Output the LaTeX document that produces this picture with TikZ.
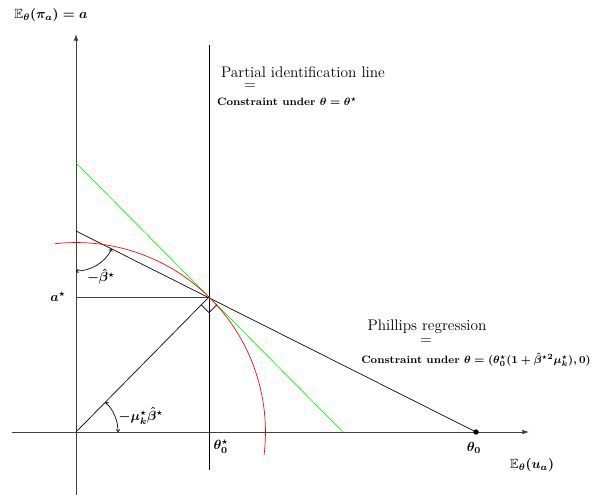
\documentclass[tikz,border=0pt]{standalone}
\usepackage{amssymb}
\usetikzlibrary{calc,arrows.meta}
\begin{document}
\begin{tikzpicture}[x=0.75pt,y=0.75pt,
  axis/.style={draw=black!75,line width=0.6pt,-{Latex[length=5pt,width=3.5pt]}},
  thinline/.style={draw=black,line width=0.5pt},
  anglearc/.style={draw=black,line width=0.5pt,{To[length=2pt,width=3pt]}-{To[length=2pt,width=3pt]}},
  lbl/.style={inner sep=1pt,font=\boldmath},
  title/.style={inner sep=0pt,font=\fontsize{11.5}{13}\selectfont},
  note/.style={inner sep=0pt,font=\footnotesize\bfseries\boldmath}]
\useasboundingbox (0,0) rectangle (592,495);
% coordinates
\coordinate (O) at (76,63);
\coordinate (P) at (209,198);
\coordinate (A) at (76,264);
\coordinate (T0) at (476,63);
\coordinate (G1) at (76,332);
\coordinate (G2) at (343,63);
\coordinate (Yb) at (76,0);
\coordinate (Yt) at (76,461);
\coordinate (Xl) at (12,63);
\coordinate (Xr) at (529,63);
\coordinate (Vb) at (209,25);
\coordinate (Vt) at (209,450);
\coordinate (Ay) at (76,198);
% axes
\draw[axis] (Yb) -- (Yt);
\draw[axis] (Xl) -- (Xr);
% vertical partial identification line
\draw[thinline] (Vb) -- (Vt);
% a* line
\draw[thinline,draw=black!75,line width=0.7pt] (Ay) -- (P);
% Phillips regression line
\draw[thinline] (A) -- (T0);
% green line
\draw[green,line width=0.5pt] (G1) -- (G2);
% radius
\draw[thinline] (O) -- (P);
% red arc
\draw[red,line width=0.5pt] ([shift={(96.3:142.1pt)}]O) arc[start angle=96.3,end angle=-7,radius=142.1pt];
% right angle mark
\coordinate (R1) at ($(P)!8.25pt!(O)$);
\coordinate (R2) at ($(P)!8.25pt!(G2)$);
\coordinate (RC) at ($(R1)+(R2)-(P)$);
\draw[thinline] (R1) -- (RC) -- (R2);
% angle arcs
\draw[anglearc] ([shift={(-90:30pt)}]A) arc[start angle=-90,end angle=-26.7,radius=30pt];
\draw[anglearc] ([shift={(0:31.5pt)}]O) arc[start angle=0,end angle=45,radius=31.5pt];
% dot
\fill (T0) circle[radius=2pt];
% labels
\node[lbl] (ylab) at (51,480) {$\mathbb{E}_\theta(\pi_a) = a$};
\node[lbl] (xlab) at (532,30) {$\mathbb{E}_\theta(u_a)$};
\node[lbl] (astar) at (58,198) {$a^\star$};
\node[lbl] (beta) at (101,218) {$-\hat\beta^\star$};
\node[lbl] (mubeta) at (141,79) {$-\mu_k^\star\hat\beta^\star$};
\node[lbl] (th0s) at (221,48) {$\theta_0^\star$};
\node[lbl] (th0) at (474,47) {$\theta_0$};
\node[title] (pil) at (303,423) {Partial identification line};
\node[title] (eq1) at (250,408) {=};
\node[note] (c1) at (287,393) {Constraint under $\theta = \theta^\star$};
\node[title] (phr) at (427,168) {Phillips regression};
\node[title] (eq2) at (426,153) {=};
\node[note] (c2) at (476,135) {Constraint under $\theta = (\theta_0^\star(1+\hat\beta^{\star2}\mu_k^\star),0)$};
\end{tikzpicture}
\end{document}
